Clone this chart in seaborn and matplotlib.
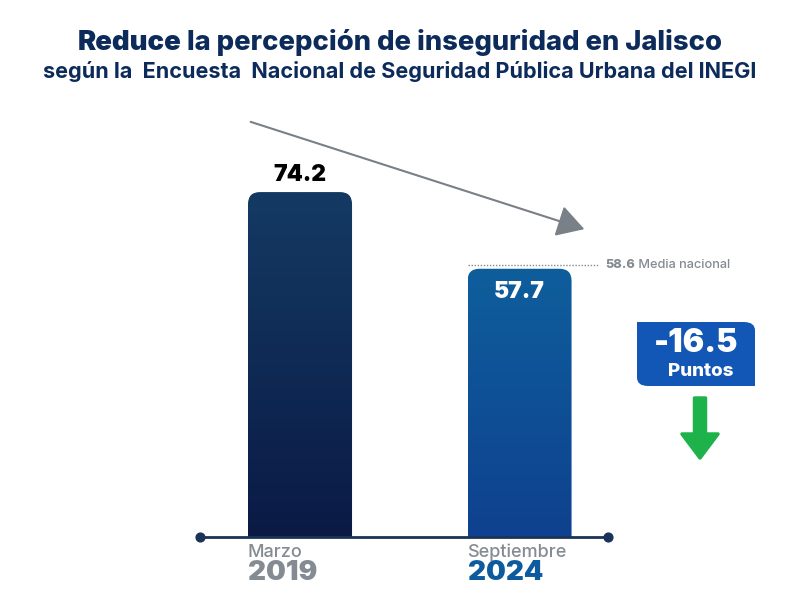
import numpy as np
import pandas as pd
import matplotlib
matplotlib.use("Agg")
import matplotlib.pyplot as plt
from matplotlib.patches import FancyBboxPatch, FancyArrowPatch, FancyArrow, Rectangle
from matplotlib.colors import LinearSegmentedColormap
import seaborn as sns

# data
periodos = ["Marzo", "Septiembre"]
anios = ["2019", "2024"]
percepcion = [74.2, 57.7]
media_nacional = 58.6

df = pd.DataFrame({"anio": anios, "valor": percepcion})

sns.set_theme(style="white")
plt.rcParams["font.family"] = ["Inter", "DejaVu Sans"]

navy = "#0d2b5a"
gris = "#858b93"
azul = "#0d5b9e"

fig = plt.figure(figsize=(8, 6), dpi=100)
fig.patch.set_facecolor("white")
ax = fig.add_axes([0.25, 0.105, 0.51, 0.7283])

sns.barplot(data=df, x="anio", y="valor", ax=ax, width=0.474, color=navy)

# rounded tops (square bottoms) + vertical gradients
gradientes = [("#143a63", "#0a1a45"), ("#0f5e9c", "#0e418f")]
aspect = (1 / 4.65) / (1 / 219.5)
for p, (c_top, c_bot) in zip(list(ax.patches), gradientes):
    x0, w, h = p.get_x(), p.get_width(), p.get_height()
    p.set_visible(False)
    rb = FancyBboxPatch((x0, -6), w, h + 6, boxstyle="round,pad=0,rounding_size=0.055",
                        mutation_aspect=aspect, fc="none", ec="none")
    ax.add_patch(rb)
    cmap = LinearSegmentedColormap.from_list("g", [c_bot, c_top])
    grad = np.linspace(0, 1, 256).reshape(-1, 1)
    im = ax.imshow(grad, extent=(x0, x0 + w, 0, h), origin="lower", cmap=cmap,
                   aspect="auto", zorder=2)
    im.set_clip_path(rb)
ax.set_xlim(-0.4556, 1.403)
ax.set_ylim(0, 94)
ax.axis("off")

# value labels
ax.text(0, percepcion[0] + 1.2, f"{percepcion[0]:.1f}", ha="center", va="bottom",
        fontsize=16.5, fontweight=900, color="black", zorder=5)
ax.text(1, percepcion[1] - 2.6, f"{percepcion[1]:.1f}", ha="center", va="top",
        fontsize=16.5, fontweight=900, color="white", zorder=5)

# media nacional
ax.hlines(media_nacional, 1 - 0.237, 1.36, colors=gris, linestyles=(0, (1, 1.2)), lw=1)
t = ax.text(1.392, media_nacional, f"{media_nacional}", ha="left", va="center",
            fontsize=9.2, fontweight=800, color=gris, clip_on=False)
ax.annotate(" Media nacional", xy=(1, 0.5), xycoords=t, ha="left", va="center",
            fontsize=9.2, fontweight=500, color=gris, annotation_clip=False)

# baseline axis with dots
ax.plot([-0.4556, 1.403], [0, 0], color="#1b3358", lw=2, clip_on=False, zorder=6)
ax.scatter([-0.4556, 1.403], [0, 0], s=40, color="#1b3358", clip_on=False, zorder=7)

# category labels
for i, (per, an) in enumerate(zip(periodos, anios)):
    x0 = i - 0.237
    ax.text(x0, -1.5, per, ha="left", va="top", fontsize=13, fontweight=500,
            color=gris, clip_on=False)
    ax.text(x0, -5.0, an, ha="left", va="top", fontsize=20, fontweight=900,
            color=gris if i == 0 else azul, clip_on=False)

# trend arrow
fig.patches.append(FancyArrowPatch(
    (248 / 800, 1 - 121 / 600), (587 / 800, 1 - 230 / 600), transform=fig.transFigure,
    arrowstyle="-|>,head_length=1.2,head_width=0.7", mutation_scale=14,
    color="#7a8088", lw=1.5))

# badge with difference (square top-left and bottom-right corners)
diff = percepcion[1] - percepcion[0]
bx, by, bw, bh = 637 / 800, 1 - 386 / 600, 118 / 800, 64 / 600
badge_c = "#1257b5"
fig.patches.append(FancyBboxPatch((bx, by), bw, bh, boxstyle="round,pad=0,rounding_size=0.014",
                                  transform=fig.transFigure, fc=badge_c, ec="none"))
fig.patches.append(Rectangle((bx, by + bh / 2), bw / 3, bh / 2, transform=fig.transFigure,
                             fc=badge_c, ec="none"))
fig.patches.append(Rectangle((bx + bw * 2 / 3, by), bw / 3, bh / 2, transform=fig.transFigure,
                             fc=badge_c, ec="none"))
fig.text(696 / 800, 1 - 344 / 600, f"{diff:.1f}", ha="center", va="center",
         fontsize=23, fontweight=900, color="white")
fig.text(701 / 800, 1 - 371 / 600, "Puntos", ha="center", va="center",
         fontsize=13.5, fontweight=800, color="white")

# green arrow (drawn in inches so it keeps its shape)
fig.patches.append(FancyArrow(
    7.0, 2.02, 0, -0.60, width=0.11, head_width=0.36, head_length=0.24,
    length_includes_head=True, transform=fig.dpi_scale_trans,
    fc="#1db34a", ec="#1db34a", lw=2.5, joinstyle="round"))

# titles, sized to the reference widths
t1 = fig.text(0.1, 1 - 43 / 600, "Reduce", ha="left", va="center",
              fontsize=19, fontweight=900, color=navy)
t2 = fig.text(0.1, 1 - 43 / 600, " la percepción de inseguridad en Jalisco", ha="left",
              va="center", fontsize=19, fontweight=800, color=navy)
sub = fig.text(0.5, 1 - 72 / 600,
               "según la  Encuesta  Nacional de Seguridad Pública Urbana del INEGI",
               ha="center", va="center", fontsize=14, fontweight=700, color=navy)
fig.canvas.draw()
r = fig.canvas.get_renderer()
tot = t1.get_window_extent(r).width + t2.get_window_extent(r).width
k = 644 / tot
t1.set_fontsize(19 * k)
t2.set_fontsize(19 * k)
sub.set_fontsize(14 * 714 / sub.get_window_extent(r).width)
fig.canvas.draw()
w1 = t1.get_window_extent(r).width / 800
w2 = t2.get_window_extent(r).width / 800
start = 0.5 - (w1 + w2) / 2
t1.set_x(start)
t2.set_x(start + w1)

fig.savefig("out.png", dpi=100, facecolor="white")
